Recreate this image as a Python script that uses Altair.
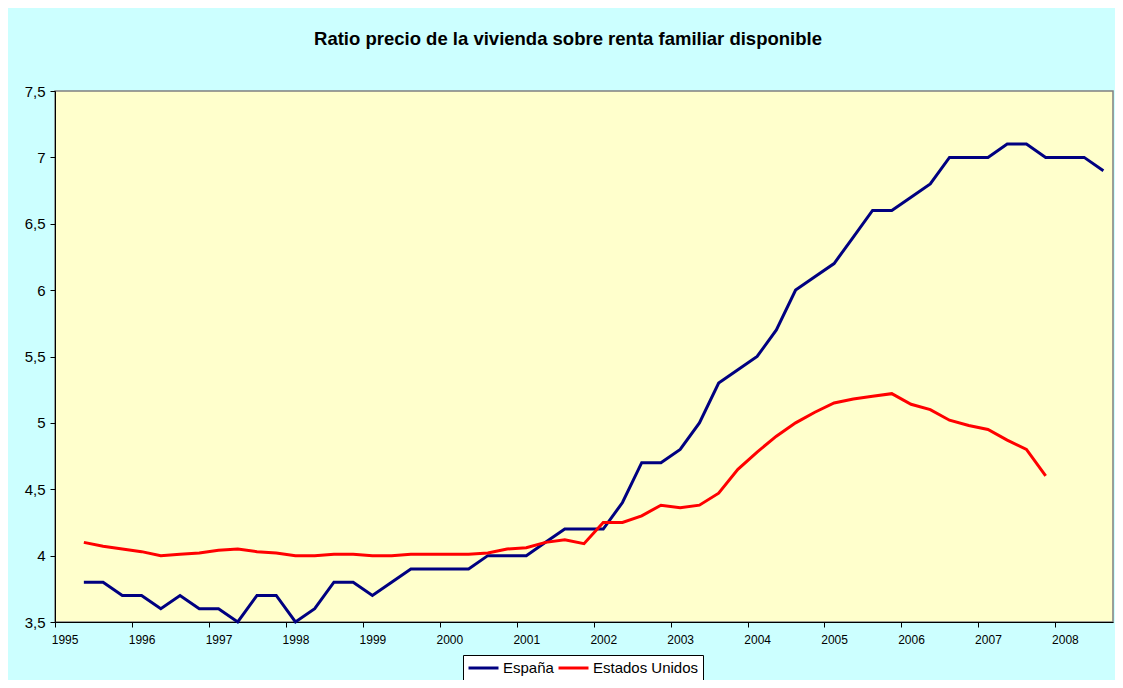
import json
import altair as alt
import pandas as pd

# ---- data (quarterly, 1995T1 .. 2008T3) ----
anios = ["1995", "1996", "1997", "1998", "1999", "2000", "2001",
         "2002", "2003", "2004", "2005", "2006", "2007", "2008"]
trimestres = list(range(55))  # category index of each quarter

espana = [None, 3.8, 3.8, 3.7, 3.7, 3.6, 3.7, 3.6, 3.6, 3.5, 3.7,
          3.7, 3.5, 3.6, 3.8, 3.8, 3.7, 3.8, 3.9, 3.9, 3.9,
          3.9, 4.0, 4.0, 4.0, 4.1, 4.2, 4.2, 4.2, 4.4, 4.7,
          4.7, 4.8, 5.0, 5.3, 5.4, 5.5, 5.7, 6.0, 6.1, 6.2,
          6.4, 6.6, 6.6, 6.7, 6.8, 7.0, 7.0, 7.0, 7.1, 7.1,
          7.0, 7.0, 7.0, 6.9]

eeuu = [None, 4.10, 4.07, 4.05, 4.03, 4.00, 4.01, 4.02, 4.04, 4.05, 4.03,
        4.02, 4.00, 4.00, 4.01, 4.01, 4.00, 4.00, 4.01, 4.01, 4.01,
        4.01, 4.02, 4.05, 4.06, 4.10, 4.12, 4.09, 4.25, 4.25, 4.30,
        4.38, 4.36, 4.38, 4.47, 4.65, 4.78, 4.90, 5.00, 5.08, 5.15,
        5.18, 5.20, 5.22, 5.14, 5.10, 5.02, 4.98, 4.95, 4.87, 4.80,
        4.60, None, None, None]

series = ["España", "Estados Unidos"]
colores = ["#000080", "#FF0000"]
y_ticks = [3.5, 4.0, 4.5, 5.0, 5.5, 6.0, 6.5, 7.0, 7.5]

rows = []
for nombre, valores in zip(series, [espana, eeuu]):
    for q, v in zip(trimestres, valores):
        if v is not None:
            rows.append({"q": q, "serie": nombre, "valor": v})
df = pd.DataFrame(rows)

PLOT_W = 1058
PLOT_H = 531
n_cat = len(trimestres)
half_cat = PLOT_W / n_cat / 2

FONT = "Liberation Sans"
x_ticks = [i - 0.5 for i in range(0, len(anios) * 4, 4)]
label_expr = f"{json.dumps(anios)}[round((datum.value + 0.5) / 4)]"

chart = (
    alt.Chart(df)
    .mark_line(strokeWidth=3)
    .encode(
        x=alt.X(
            "q:Q",
            scale=alt.Scale(domain=[-0.5, n_cat - 0.5], nice=False, zero=False),
            axis=alt.Axis(
                values=x_ticks,
                labelExpr=label_expr,
                labelOffset=half_cat,
                title=None,
                grid=False,
                labelFlush=False,
                labelOverlap=False,
                tickSize=5,
                labelFontSize=12,
                labelPadding=7,
                labelFont=FONT,
                labelColor="black",
                domainColor="black",
                tickColor="black",
            ),
        ),
        y=alt.Y(
            "valor:Q",
            scale=alt.Scale(domain=[3.5, 7.5], nice=False, zero=False),
            axis=alt.Axis(
                values=y_ticks,
                labelExpr="replace(toString(datum.value), '.', ',')",
                title=None,
                grid=False,
                tickSize=5,
                labelFontSize=15,
                labelPadding=5,
                labelFont=FONT,
                labelColor="black",
                domainColor="black",
                tickColor="black",
            ),
        ),
        color=alt.Color(
            "serie:N",
            scale=alt.Scale(domain=series, range=colores),
            legend=alt.Legend(
                title=None,
                orient="none",
                legendX=408,
                legendY=564,
                direction="horizontal",
                fillColor="white",
                strokeColor="black",
                padding=4,
                symbolType="M-1,0H3",
                symbolSize=225,
                symbolStrokeWidth=3,
                labelFontSize=15,
                labelFont=FONT,
                labelColor="black",
                labelOffset=18,
                columnPadding=-2,
                cornerRadius=0,
            ),
        ),
    )
    .properties(
        width=PLOT_W,
        height=PLOT_H,
        title=alt.TitleParams(
            "Ratio precio de la vivienda sobre renta familiar disponible",
            fontSize=18.5,
            fontWeight="bold",
            font=FONT,
            color="black",
            anchor="middle",
            frame="group",
            dx=-16,
            offset=36,
        ),
        padding={"left": 47, "top": 83, "right": 2, "bottom": 58},
        autosize=alt.AutoSizeParams(type="none"),
        background="#CCFFFF",
    )
    .configure_view(fill="#FFFFCC", stroke="#808080", strokeWidth=1.5)
)

chart.save("out.html", embed_options={"renderer": "svg", "actions": False})
